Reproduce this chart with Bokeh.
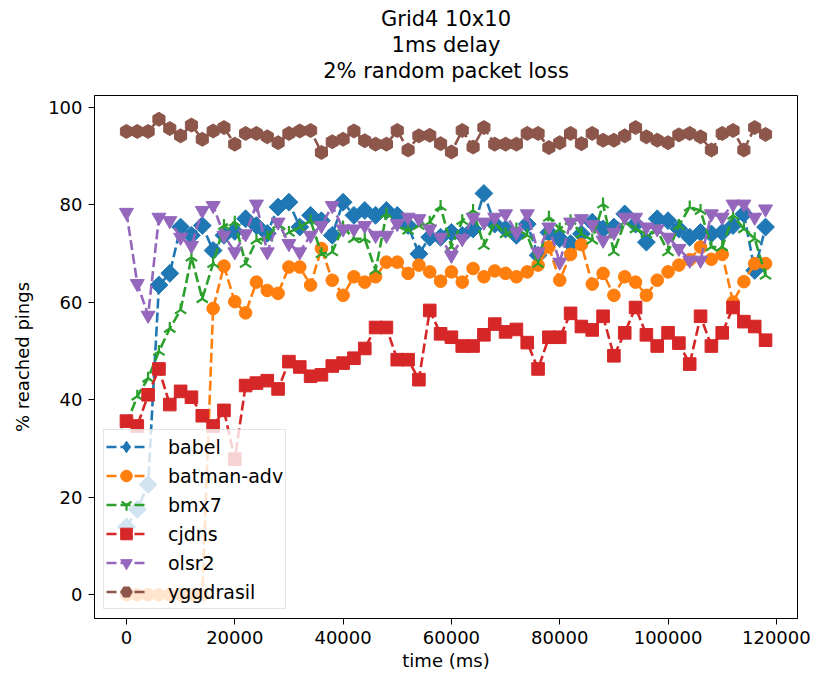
import math
from bokeh.plotting import figure
from bokeh.models import (Range1d, FixedTicker, Legend, LegendItem, Title,
                          BasicTickFormatter)
from bokeh.embed import file_html
from bokeh.resources import INLINE

time_ms = [0, 2000, 4000, 6000, 8000, 10000, 12000, 14000, 16000, 18000,
           20000, 22000, 24000, 26000, 28000, 30000, 32000, 34000, 36000, 38000,
           40000, 42000, 44000, 46000, 48000, 50000, 52000, 54000, 56000, 58000,
           60000, 62000, 64000, 66000, 68000, 70000, 72000, 74000, 76000, 78000,
           80000, 82000, 84000, 86000, 88000, 90000, 92000, 94000, 96000, 98000,
           100000, 102000, 104000, 106000, 108000, 110000, 112000, 114000, 116000, 118000]

babel = [13.9, 17.5, 22.6, 63.5, 65.9, 75.4, 73.7, 75.7, 70.6, 73.7,
         74.5, 77.1, 75.7, 74.1, 79.5, 80.5, 75.4, 77.8, 76.7, 73.7,
         80.5, 77.8, 78.8, 77.8, 78.8, 77.8, 75.7, 69.9, 73.3, 73.3,
         74.3, 73.7, 75.0, 82.3, 76.0, 75.0, 73.7, 76.0, 69.6, 74.3,
         73.0, 72.0, 74.0, 76.4, 75.0, 75.4, 78.1, 76.0, 72.3, 77.1,
         76.7, 75.0, 73.3, 74.3, 74.0, 74.3, 75.7, 78.1, 66.5, 75.4]

batman_adv = [0, 0, 0, 0, 0, 0, 0, 0, 58.7, 67.4,
              60.1, 57.8, 64.1, 62.4, 61.8, 67.2, 67.2, 63.5, 71.0, 64.5,
              61.4, 65.2, 64.1, 65.2, 68.2, 68.2, 65.9, 67.6, 66.2, 64.3,
              66.2, 64.1, 66.9, 65.2, 66.4, 65.9, 65.2, 66.2, 67.6, 71.3,
              64.5, 69.8, 71.8, 63.7, 65.9, 61.4, 65.2, 64.1, 61.4, 64.5,
              66.2, 67.6, 68.7, 71.3, 68.8, 69.8, 60.0, 64.2, 67.9, 67.9]

bmx7 = [35.0, 40.7, 44.4, 49.9, 54.6, 58.4, 69.2, 60.7, 67.9, 75.7,
        76.4, 67.9, 72.7, 73.3, 75.9, 74.3, 75.4, 76.7, 69.9, 70.3,
        75.4, 73.0, 73.0, 66.5, 78.1, 75.7, 74.7, 75.7, 76.4, 79.6,
        71.3, 76.7, 78.8, 71.6, 76.1, 74.0, 75.0, 73.7, 67.9, 77.4,
        75.0, 76.7, 74.0, 72.7, 80.1, 70.3, 76.4, 75.0, 74.0, 74.7,
        70.3, 75.7, 79.5, 78.8, 71.3, 71.3, 77.8, 75.0, 73.0, 65.5]

cjdns = [35.6, 34.6, 41.0, 46.3, 39.0, 41.7, 40.5, 36.7, 34.6, 37.8,
         27.8, 42.9, 43.4, 43.9, 42.2, 47.8, 46.7, 44.8, 45.1, 46.9,
         47.5, 48.5, 50.5, 54.8, 54.8, 48.2, 48.2, 44.1, 58.3, 53.5,
         52.8, 51.0, 51.0, 53.3, 55.5, 53.9, 54.4, 51.7, 46.3, 52.8,
         52.8, 57.7, 55.0, 54.3, 57.1, 49.0, 53.7, 58.9, 53.3, 51.0,
         53.7, 51.6, 47.3, 57.1, 51.0, 53.7, 58.9, 56.0, 55.0, 52.2]

olsr2 = [78.4, 63.8, 57.3, 77.4, 76.7, 73.3, 71.6, 78.8, 79.8, 73.7,
         70.3, 74.0, 80.1, 70.3, 76.4, 72.0, 70.3, 73.7, 75.7, 79.8,
         75.0, 75.0, 75.7, 73.7, 73.7, 76.1, 77.4, 77.1, 75.0, 73.3,
         69.6, 73.0, 77.4, 76.4, 77.4, 78.1, 74.3, 78.1, 70.3, 75.4,
         68.2, 76.4, 77.1, 75.9, 72.7, 74.3, 77.4, 77.4, 75.4, 75.0,
         73.3, 71.0, 68.6, 68.6, 78.1, 77.4, 80.1, 80.1, 77.4, 79.1]

yggdrasil = [95.0, 95.0, 95.0, 97.5, 95.6, 94.1, 96.3, 93.4, 95.1, 95.8,
             92.4, 94.6, 94.6, 93.9, 92.7, 94.6, 95.1, 95.2, 90.7, 92.9,
             93.4, 95.1, 93.1, 92.4, 92.4, 95.2, 91.2, 94.1, 94.2, 92.5,
             90.8, 95.2, 91.8, 95.8, 92.4, 92.4, 92.4, 94.6, 94.6, 91.7,
             92.7, 94.6, 92.5, 94.6, 93.2, 93.2, 94.1, 95.8, 93.9, 93.2,
             92.7, 94.3, 94.6, 93.9, 91.2, 94.6, 95.2, 91.2, 95.8, 94.4]

x_ticks = [0, 20000, 40000, 60000, 80000, 100000, 120000]
y_ticks = [0, 20, 40, 60, 80, 100]
title_lines = ["Grid4 10x10", "1ms delay", "2% random packet loss"]

FONT = "DejaVu Sans"
W, H = 812, 677

p = figure(width=W, height=H, output_backend="svg", toolbar_location=None,
           title=None,
           x_range=Range1d(-5900, 123900), y_range=Range1d(-4.875, 102.375),
           min_border_left=94, min_border_right=W - 797, min_border_top=95,
           min_border_bottom=H - 618)

# spacer between the frame and the title block
p.add_layout(Title(text=" ", text_font=FONT, text_font_size="9.5px", standoff=0), "above")
for text in [title_lines[2], title_lines[1], title_lines[0]]:
    p.add_layout(Title(text=text, align="center", text_font=FONT,
                       text_font_size="21px", text_font_style="normal",
                       text_color="black", standoff=0), "above")

p.xgrid.visible = False
p.ygrid.visible = False
p.outline_line_color = "black"
p.outline_line_width = 1
p.outline_line_alpha = 1

for ax in (p.xaxis[0], p.yaxis[0]):
    ax.axis_line_color = "black"
    ax.major_tick_line_color = "black"
    ax.major_tick_out = 6
    ax.major_tick_in = 0
    ax.minor_tick_line_color = None
    ax.major_label_text_font = FONT
    ax.major_label_text_font_size = "18px"
    ax.major_label_text_color = "black"
    ax.axis_label_text_font = FONT
    ax.axis_label_text_font_size = "18px"
    ax.axis_label_text_font_style = "normal"
    ax.axis_label_text_color = "black"
    ax.major_label_standoff = 6

p.xaxis[0].ticker = FixedTicker(ticks=x_ticks)
p.xaxis[0].formatter = BasicTickFormatter(use_scientific=False)
p.yaxis[0].ticker = FixedTicker(ticks=y_ticks)
p.xaxis[0].axis_label = "time (ms)"
p.yaxis[0].axis_label = "% reached pings"
p.xaxis[0].axis_label_standoff = 3
p.yaxis[0].axis_label_standoff = 12

series = [
    ("babel", babel, "#1f77b4", dict(marker="square", size=12.6, angle=math.pi / 4)),
    ("batman-adv", batman_adv, "#ff7f0e", dict(marker="circle", size=12.6)),
    ("bmx7", bmx7, "#2ca02c", dict(marker="y", size=13, angle=math.pi, line_width=2.2)),
    ("cjdns", cjdns, "#d62728", dict(marker="square", size=12.6)),
    ("olsr2", olsr2, "#9467bd", dict(marker="inverted_triangle", size=14)),
    ("yggdrasil", yggdrasil, "#8c564b", dict(marker="hex", size=14, angle=math.pi / 6)),
]

items = []
for name, vals, color, mk in series:
    lr = p.line(time_ms, vals, line_color=color, line_width=2.6, line_dash="10 4")
    kw = dict(mk)
    lw = kw.pop("line_width", 1)
    rends = [lr]
    if name == "babel":
        # legend ignores marker angle: a diamond drawn underneath the rotated
        # squares (fully covered by them) supplies the legend glyph
        proxy = p.scatter(time_ms, vals, marker="diamond", size=12.6,
                          fill_color=color, line_color=color)
        rends.append(proxy)
    sr = p.scatter(time_ms, vals, fill_color=color, line_color=color,
                   line_width=lw, **kw)
    if name != "babel":
        rends.append(sr)
    items.append(LegendItem(label=name, renderers=rends))

legend = Legend(items=items, location="bottom_left", margin=9,
                padding=2, spacing=0, glyph_width=40, glyph_height=29,
                label_height=29, label_standoff=22,
                label_text_font=FONT, label_text_font_size="19px",
                label_text_color="black",
                border_line_color="#cccccc", border_line_width=1,
                background_fill_color="white", background_fill_alpha=0.8)
p.add_layout(legend)

open("out.html", "w").write(file_html(p, INLINE))
